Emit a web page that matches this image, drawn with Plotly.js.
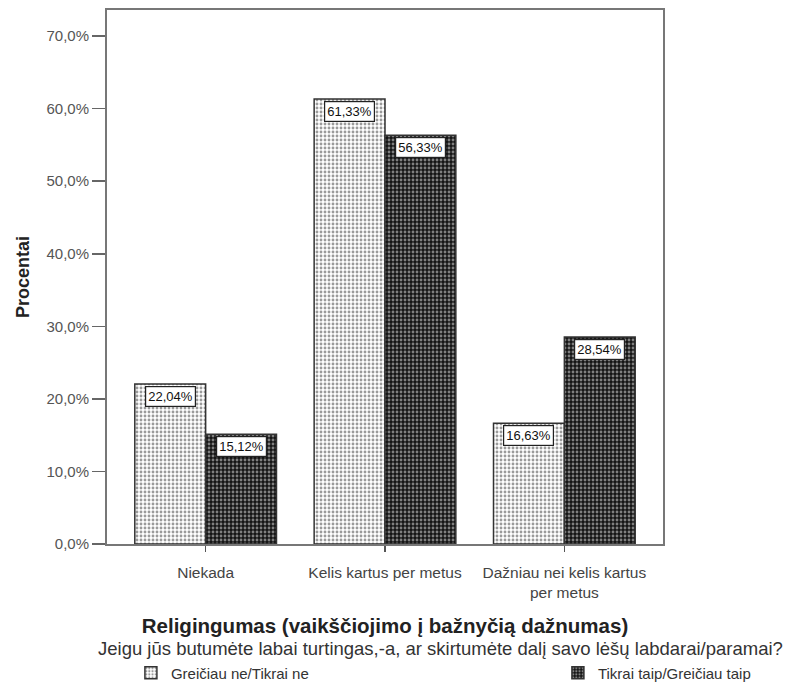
<!DOCTYPE html>
<html>
<head>
<meta charset="utf-8">
<script src="https://cdn.plot.ly/plotly-3.0.1.min.js"></script>
<style>html,body{margin:0;padding:0;background:#fff;}#chart{width:789px;height:684px;}</style>
</head>
<body>
<div id="chart"></div>
<script>
const categories = ['Niekada', 'Kelis kartus per metus', 'Dažniau nei kelis kartus<br>per metus'];
const seriesNames = ['Greičiau ne/Tikrai ne', 'Tikrai taip/Greičiau taip'];
const valuesNo = [22.04, 61.33, 16.63];
const valuesYes = [15.12, 56.33, 28.54];
const yTickVals = [0, 10, 20, 30, 40, 50, 60, 70];
const yTickText = ['0,0%', '10,0%', '20,0%', '30,0%', '40,0%', '50,0%', '60,0%', '70,0%'];
const xTitle = 'Religingumas (vaikščiojimo į bažnyčią dažnumas)';
const yTitle = 'Procentai';
const legendTitle = 'Jeigu jūs butumėte labai turtingas,-a, ar skirtumėte dalį savo lėšų labdarai/paramai?';

const FONT = 'Liberation Sans, Arial, sans-serif';
const fmt = v => v.toFixed(2).replace('.', ',') + '%';

const traces = [
  {
    type: 'bar', name: seriesNames[0], x: categories, y: valuesNo, legend: 'legend',
    marker: {
      color: '#ffffff',
      line: {color: '#333333', width: 1.5},
      pattern: {shape: '.', fgcolor: '#9a9a9a', bgcolor: '#ffffff', size: 4, solidity: 0.4}
    }
  },
  {
    type: 'bar', name: seriesNames[1], x: categories, y: valuesYes, legend: 'legend2',
    marker: {
      color: '#222222',
      line: {color: '#333333', width: 1.5},
      pattern: {shape: '.', fgcolor: '#808080', bgcolor: '#151515', size: 4, solidity: 0.4}
    }
  }
];

const annotations = [];
const barShift = 35.5;
const labelStyle = {
  xref: 'x', yref: 'y', showarrow: false, yshift: -2, yanchor: 'top', xanchor: 'center',
  font: {family: FONT, size: 13, color: '#111'}, bgcolor: '#ffffff',
  bordercolor: '#222', borderwidth: 1.2, borderpad: 2
};
valuesNo.forEach((v, i) => annotations.push(Object.assign({}, labelStyle, {
  x: categories[i], y: v, text: fmt(v), xshift: -barShift
})));
valuesYes.forEach((v, i) => annotations.push(Object.assign({}, labelStyle, {
  x: categories[i], y: v, text: fmt(v), xshift: barShift
})));
annotations.push({
  xref: 'paper', yref: 'paper', x: 0.6007, y: -0.1966, xanchor: 'center', yanchor: 'middle',
  text: legendTitle, showarrow: false, font: {family: FONT, size: 18.5, color: '#333'}
});

const legendBase = {
  orientation: 'h', xanchor: 'left', yref: 'container', y: 0.016, yanchor: 'middle',
  font: {family: FONT, size: 15, color: '#333'},
  bgcolor: 'rgba(0,0,0,0)', borderwidth: 0
};

const layout = {
  width: 789, height: 684, autosize: false,
  margin: {l: 107, r: 126, t: 10, b: 140, pad: 0},
  paper_bgcolor: '#ffffff', plot_bgcolor: '#ffffff',
  font: {family: FONT, color: '#444'},
  barmode: 'group', bargap: 0.21, bargroupgap: 0,
  showlegend: true,
  legend: Object.assign({}, legendBase, {x: 0.043}),
  legend2: Object.assign({}, legendBase, {x: 0.811}),
  xaxis: {
    type: 'category', range: [-0.55, 2.55],
    showline: true, mirror: true, linecolor: '#777', linewidth: 2,
    ticks: 'outside', ticklen: 6, tickcolor: '#555', tickwidth: 1.5, ticklabelstandoff: 7,
    tickfont: {family: FONT, size: 15.5, color: '#444'},
    showgrid: false, zeroline: false,
    title: {text: '<b>' + xTitle + '</b>', font: {family: FONT, size: 20.5, color: '#222'}, standoff: 19}
  },
  yaxis: {
    range: [0, 73.6], tickvals: yTickVals, ticktext: yTickText,
    showline: true, mirror: true, linecolor: '#777', linewidth: 2,
    ticks: 'outside', ticklen: 13, tickcolor: '#666', tickwidth: 1.5,
    tickfont: {family: FONT, size: 15, color: '#555'},
    showgrid: false, zeroline: false,
    title: {text: '<b>' + yTitle + '</b>', font: {family: FONT, size: 18, color: '#222'}, standoff: 12}
  },
  annotations: annotations
};

Plotly.newPlot('chart', traces, layout, {staticPlot: true, displayModeBar: false});
</script>
</body>
</html>
